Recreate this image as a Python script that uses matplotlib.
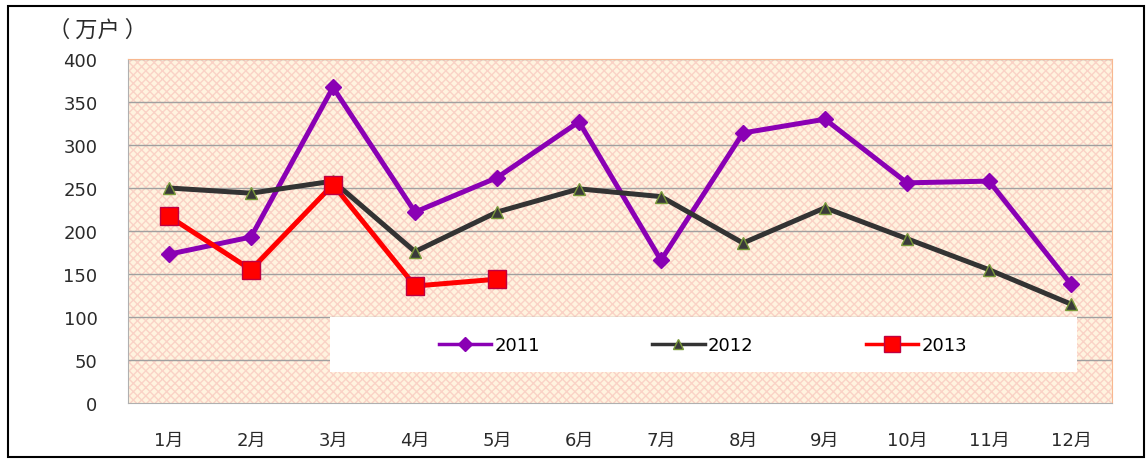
import numpy as np
import matplotlib.pyplot as plt
from matplotlib.patches import Rectangle

plt.rcParams['font.family'] = ['DejaVu Sans', 'Noto Sans CJK SC']

months = ["1月", "2月", "3月", "4月", "5月", "6月", "7月", "8月", "9月", "10月", "11月", "12月"]
v2011 = [173, 193, 367, 222, 262, 327, 166, 314, 330, 256, 258, 138]
v2012 = [250, 244, 258, 176, 222, 249, 240, 186, 227, 191, 155, 115]
v2013 = [217, 155, 254, 136, 144]

fig = plt.figure(figsize=(11.47, 4.64), dpi=100)
ax = fig.add_axes([128/1147, 1-404/464, 984/1147, 344/464])

x = np.arange(len(months))
ax.set_facecolor('#fff3df')
bg = Rectangle((0, 0), 1, 1, transform=ax.transAxes, facecolor='none',
               edgecolor='#fad2c6', hatch='xxxx', lw=0, zorder=0)
ax.add_patch(bg)

for v in range(50, 401, 50):
    ax.axhline(v, color='#a0a0a0', lw=1, zorder=1)

ax.plot(x, v2011, color='#8a00b4', lw=3.6, marker='D', ms=8, label='2011', zorder=3)
ax.plot(x, v2012, color='#333333', lw=3.6, marker='^', ms=9,
        mec='#7a9a3a', mfc='#3a3a3a', label='2012', zorder=3)
ax.plot(x[:len(v2013)], v2013, color='#ff0000', lw=3.6, marker='s', ms=13,
        mec='#c00040', label='2013', zorder=4)

ax.set_xlim(-0.5, 11.5)
ax.set_ylim(0, 400)
ax.set_yticks(range(0, 401, 50))
ax.set_xticks(x)
ax.set_xticklabels(months)
ax.tick_params(axis='y', labelsize=13, length=0, pad=22, colors='#2a2a2a')
ax.tick_params(axis='x', labelsize=13, length=0, pad=20, colors='#2a2a2a')
for s in ['top', 'right']:
    ax.spines[s].set_color('#f8b890')
for s in ['left', 'bottom']:
    ax.spines[s].set_color('#b0b0b0')

# white legend panel
ax.add_patch(Rectangle((202/984, 31/344), 747/984, 55/344, transform=ax.transAxes,
                       facecolor='white', edgecolor='none', zorder=5))
leg = ax.legend(loc='center', bbox_to_anchor=(575/984, 58/344), ncol=3, frameon=False,
                fontsize=13, handlelength=2.9, handletextpad=0.2, columnspacing=6.2,
                markerscale=0.85)
leg.set_zorder(6)
for h in leg.get_lines():
    h.set_linewidth(2.5)

fig.text(48/1147, 1-30/464, "（ 万户 ）", fontsize=16, va='center', ha='left', color='#2a2a2a',
         family='Noto Sans CJK SC')
fig.patches.append(Rectangle((8/1147, 6/464), 1136/1147, 451/464, transform=fig.transFigure,
                             fill=False, edgecolor='black', lw=1.5))

plt.savefig("out.png", dpi=100)
